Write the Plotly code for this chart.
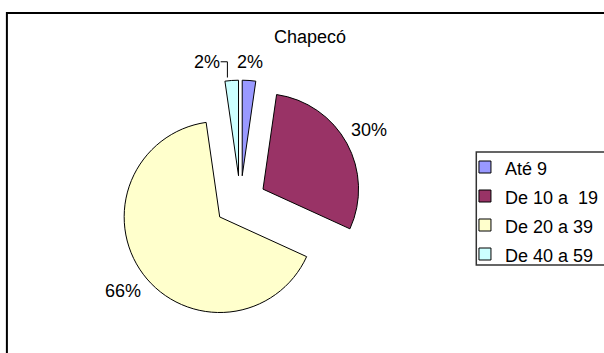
import math
import plotly.graph_objects as go

# Age bands of the Chapecó group and their counts
categories = ["Até 9", "De 10 a\u00a0 19", "De 20 a 39", "De 40 a 59"]
counts = [1, 13, 29, 1]
colors = ["#9999FF", "#993366", "#FFFFCC", "#CCFFFF"]
title_text = "Chapecó"

W, H = 604, 353
FONT = "Liberation Sans, Arial, sans-serif"
TEXT_SIZE = 18

# pie geometry in pixels
CX, CY = 244.0, 201.5
RADIUS = 97.0
PULL = 0.27
LABEL_GAP = 5.0
LABEL_HALF_H = 11.0
# sideways nudge for labels that would collide (px)
LABEL_SHIFT = [0, 0, 0, -24]


def px_x(x):
    return x / W


def px_y(y):
    return 1 - y / H


box = 2 * RADIUS * (1 + PULL)
dom_x = [px_x(CX - box / 2), px_x(CX + box / 2)]
dom_y = [px_y(CY + box / 2), px_y(CY - box / 2)]

legend_labels = [f'<span style="font-size:{TEXT_SIZE}px">{c}</span>' for c in categories]

fig = go.Figure()
fig.add_trace(
    go.Pie(
        labels=legend_labels,
        values=counts,
        sort=False,
        direction="clockwise",
        rotation=0,
        pull=[PULL] * len(counts),
        marker=dict(colors=colors, line=dict(color="#000000", width=1)),
        textinfo="none",
        domain=dict(x=dom_x, y=dom_y),
        hoverinfo="skip",
    )
)

# percentage labels placed just outside each exploded slice
total = sum(counts)
outer = RADIUS * (1 + PULL)
annotations = []
shapes = []
start = 0.0
for i, v in enumerate(counts):
    frac = v / total
    mid = (start + frac / 2) * 2 * math.pi
    s, c = math.sin(mid), math.cos(mid)
    txt = f"{round(frac * 100):d}%"
    half_w = (0.556 * (len(txt) - 1) + 0.889) * TEXT_SIZE / 2
    support = half_w * abs(s) + LABEL_HALF_H * abs(c)
    dist = outer + LABEL_GAP + support
    lx = CX + dist * s + LABEL_SHIFT[i]
    ly = CY - dist * c
    annotations.append(
        dict(
            x=px_x(lx), y=px_y(ly), xref="paper", yref="paper",
            text=txt, showarrow=False, xanchor="center", yanchor="middle",
            font=dict(family=FONT, size=TEXT_SIZE, color="#000000"),
        )
    )
    if LABEL_SHIFT[i]:
        # elbow leader line from the moved label down to its slice
        a = (start + frac * 0.25) * 2 * math.pi
        ex = CX + outer * math.sin(a)
        ey = CY - outer * math.cos(a) - 1.5
        sx = lx + half_w + 1
        path = (
            f"M {px_x(sx)},{px_y(ly)} L {px_x(ex)},{px_y(ly)} "
            f"L {px_x(ex)},{px_y(ey)}"
        )
        shapes.append(
            dict(type="path", xref="paper", yref="paper", path=path,
                 line=dict(color="#000000", width=1))
        )
    start += frac

# chart area frame (left and top edges are inside the canvas)
shapes.append(
    dict(
        type="path", xref="paper", yref="paper",
        path=f"M {px_x(7)},-0.3 L {px_x(7)},{px_y(13)} L 1.3,{px_y(13)}",
        line=dict(color="#000000", width=2),
    )
)
# legend frame
shapes.append(
    dict(
        type="path", xref="paper", yref="paper",
        path=(
            f"M 1.3,{px_y(265)} L {px_x(483.5)},{px_y(265)} "
            f"L {px_x(483.5)},{px_y(152)} L 1.3,{px_y(152)}"
        ),
        line=dict(color="#333333", width=1.5),
    )
)

fig.update_layout(
    width=W,
    height=H,
    margin=dict(l=0, r=0, t=0, b=0),
    paper_bgcolor="#FFFFFF",
    plot_bgcolor="#FFFFFF",
    font=dict(family=FONT, size=TEXT_SIZE, color="#000000"),
    title=dict(
        text=title_text,
        x=px_x(310),
        xanchor="center",
        y=px_y(37),
        yanchor="middle",
        font=dict(family=FONT, size=TEXT_SIZE, color="#000000"),
    ),
    showlegend=True,
    legend=dict(
        x=px_x(472),
        xanchor="left",
        y=px_y(147.5),
        yanchor="top",
        bgcolor="rgba(0,0,0,0)",
        borderwidth=0,
        font=dict(family=FONT, size=20, color="#000000"),
    ),
    annotations=annotations,
    shapes=shapes,
)

fig.write_html("out.html")
